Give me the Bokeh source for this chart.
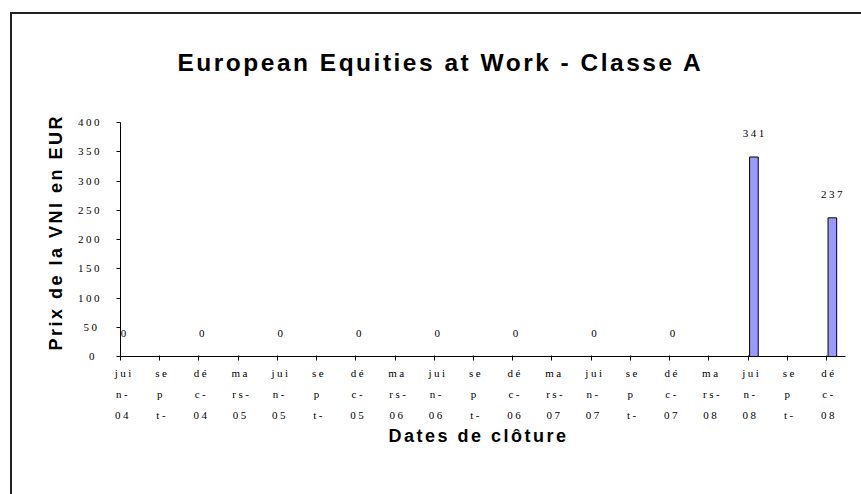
from bokeh.plotting import figure
from bokeh.models import (Range1d, FixedTicker, ColumnDataSource, Title,
                          LabelSet, InlineStyleSheet)
from bokeh.embed import file_html
from bokeh.resources import INLINE

# ---- data -------------------------------------------------------------
categories = ["juin-04", "sept-04", "déc-04", "mars-05", "juin-05", "sept-05",
              "déc-05", "mars-06", "juin-06", "sept-06", "déc-06", "mars-07",
              "juin-07", "sept-07", "déc-07", "mars-08", "juin-08", "sept-08",
              "déc-08"]
nav_values = [0, None, 0, None, 0, None, 0, None, 0, None, 0, None,
              0, None, 0, None, 341, None, 237]
y_ticks = [0, 50, 100, 150, 200, 250, 300, 350, 400]

title_text = "European Equities at Work - Classe A"
y_title = "Prix de la VNI en EUR"
x_title = "Dates de clôture"

# the category labels are wrapped in a narrow column, as in the original
wrap_parts = {"juin": ["jui", "n-"], "sept": ["se", "p", "t-"],
              "déc": ["dé", "c-"], "mars": ["ma", "rs-"]}


def wrapped(cat):
    month, year = cat.split("-")
    parts = list(wrap_parts[month])
    if len(parts) < 3:
        parts.append(year)
    return "\n".join(parts)


# ---- figure -----------------------------------------------------------
W, H = 861, 494
p = figure(width=W, height=H, output_backend="svg", toolbar_location=None,
           x_range=Range1d(0, 18.485), y_range=Range1d(0, 400),
           min_border_left=120, min_border_right=16,
           min_border_top=122, min_border_bottom=138)
p.grid.visible = False
p.outline_line_color = None
p.background_fill_color = "white"
p.border_fill_color = "white"
p.stylesheets = [InlineStyleSheet(css="""
:host { letter-spacing: 2.5px; }
:host::after {
  content: ""; position: absolute; left: 10px; top: 12px; right: 0; bottom: 0;
  border-left: 2px solid #222; border-top: 2px solid #222;
  pointer-events: none; z-index: 10;
}
""")]

idx = [i for i, v in enumerate(nav_values) if v is not None]
src = ColumnDataSource(dict(
    x=[i + 0.15 for i in idx],
    top=[nav_values[i] for i in idx],
    label=[str(nav_values[i]) for i in idx],
))
p.vbar(x="x", top="top", bottom=0, width=0.22, source=src,
       fill_color="#9999FF", line_color="black", line_width=1)
p.add_layout(LabelSet(x="x", y="top", text="label", source=src,
                      text_align="center", text_baseline="bottom",
                      x_offset=-3, y_offset=20, text_font="Liberation Serif",
                      text_font_size="11px", text_color="black"))

xa = p.xaxis[0]
xa.ticker = FixedTicker(ticks=list(range(len(categories))))
xa.major_label_overrides = {i: wrapped(c) for i, c in enumerate(categories)}
xa.major_label_text_font = "Liberation Serif"
xa.major_label_text_font_size = "11px"
xa.major_label_text_line_height = 1.75
xa.major_label_text_color = "black"
xa.major_label_standoff = 6
xa.major_tick_in = 1
xa.major_tick_out = 4
xa.minor_tick_line_color = None
xa.axis_line_color = "black"
xa.major_tick_line_color = "black"

ya = p.yaxis[0]
ya.ticker = FixedTicker(ticks=y_ticks)
ya.major_label_text_font = "Liberation Serif"
ya.major_label_text_font_size = "11px"
ya.major_label_text_color = "black"
ya.major_label_standoff = 22
ya.major_tick_in = 0
ya.major_tick_out = 4
ya.minor_tick_line_color = None
ya.axis_line_color = "black"
ya.major_tick_line_color = "black"

p.title.text = title_text
p.title.align = "left"
p.title.offset = 57
p.title.standoff = 93
p.title.text_font = "Liberation Sans"
p.title.text_font_style = "bold"
p.title.text_font_size = "24.5px"
p.title.text_color = "black"

p.add_layout(Title(text=y_title, align="left", offset=6, standoff=17,
                   text_font="Liberation Sans", text_font_style="bold",
                   text_font_size="18px", text_color="black"), "left")
p.add_layout(Title(text=x_title, align="left", offset=268, standoff=0,
                   text_font="Liberation Sans", text_font_style="bold",
                   text_font_size="18px", text_color="black"), "below")

open("out.html", "w").write(file_html(p, INLINE))
